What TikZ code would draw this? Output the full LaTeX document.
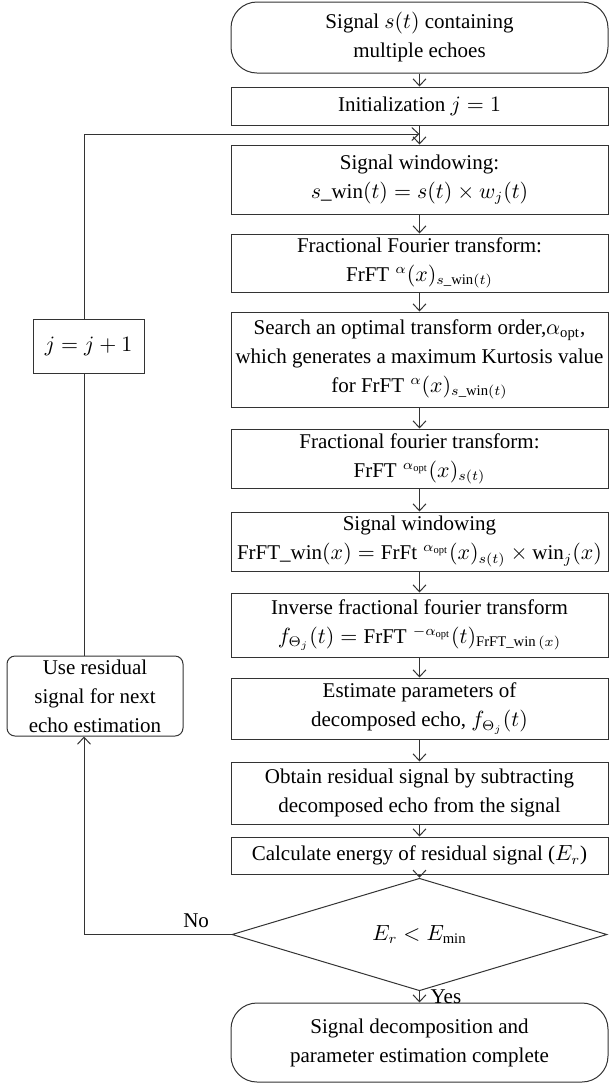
\documentclass[tikz,border=0pt]{standalone}
\usepackage{amsmath,amssymb}
\usepackage{fontspec}
\setmainfont{Liberation Serif}
\usetikzlibrary{arrows.meta,shapes.geometric}

\begin{document}
\begin{tikzpicture}[x=0.5pt,y=-0.5pt,>={Straight Barb[length=3.5pt,width=6.5pt]},
  line width=0.5pt,draw=black!80,font=\fontsize{10.5}{14.5}\selectfont,
  box/.style={draw,minimum width=188.5pt,inner sep=1pt,align=center},
  term/.style={box,rounded corners=13pt}]
\useasboundingbox (0,0) rectangle (609,1084);
\node[term,minimum height=35.5pt] (start) at (419.5,37.5) {Signal $s(t)$ containing\\multiple echoes};
\node[box,minimum height=19pt] (init) at (419.5,106) {Initialization $j=1$};
\node[box,minimum height=34.5pt] (win) at (419.5,179.5) {Signal windowing:\\$s\_\mathrm{win}(t)=s(t)\times w_j(t)$};
\node[box,minimum height=29pt] (frft) at (419.5,263) {Fractional Fourier transform:\\$\mathrm{FrFT}\;{}^{\alpha}(x)_{s\_\mathrm{win}(t)}$};
\node[box,minimum height=47.5pt] (opt) at (419.5,359.5) {Search an optimal transform order,$\alpha_{\mathrm{opt}}$,\\which generates a maximum Kurtosis value\\for $\mathrm{FrFT}\;{}^{\alpha}(x)_{s\_\mathrm{win}(t)}$};
\node[box,minimum height=29.5pt] (frft2) at (419.5,458.5) {Fractional fourier transform:\\$\mathrm{FrFT}\;{}^{\alpha_{\mathrm{opt}}}(x)_{s(t)}$};
\node[box,minimum height=29.5pt] (win2) at (419.5,541.5) {Signal windowing\\$\mathrm{FrFT\_win}(x)=\mathrm{FrFt}\;{}^{\alpha_{\mathrm{opt}}}(x)_{s(t)}\times\mathrm{win}_j(x)$};
\node[box,minimum height=32pt] (ifrft) at (419.5,625) {Inverse fractional fourier transform\\$f_{\Theta_j}(t)=\mathrm{FrFT}\;{}^{-\alpha_{\mathrm{opt}}}(t)_{\mathrm{FrFT\_win}\,(x)}$};
\node[box,minimum height=30.5pt] (est) at (419.5,708.5) {Estimate parameters of\\decomposed echo, $f_{\Theta_j}(t)$};
\node[box,minimum height=31pt] (res) at (419.5,793) {Obtain residual signal by subtracting\\decomposed echo from the signal};
\node[box,minimum height=18.5pt] (en) at (419.5,855.5) {Calculate energy of residual signal ($E_r$)};
\node[draw,diamond,minimum width=187.5pt,minimum height=41.5pt,inner sep=0pt] (dec) at (419.5,934.5) {$E_r<E_{\min}$};
\node[term,minimum height=39.5pt] (stop) at (419.5,1042.5) {Signal decomposition and\\parameter estimation complete};
\node[box,minimum width=55.5pt,minimum height=27pt] (inc) at (88.5,346) {$j=j+1$};
\node[box,rounded corners=4pt,minimum width=88pt,minimum height=40pt] (use) at (95,696) {Use residual\\signal for next\\echo estimation};
% main column
\foreach \a/\b in {start/init,init/win,win/frft,frft/opt,opt/frft2,frft2/win2,win2/ifrft,ifrft/est,est/res,res/en,en/dec}
  \draw[->] (\a) -- (\b);
\draw[->] (dec) -- node[right,xshift=2pt]{Yes} (stop);
% loop back
\coordinate (lp) at (84,134);
\draw[->] (dec.west) -| node[pos=0.12,above]{No} (use.south -| lp);
\draw (use.north -| lp) -- (inc.south -| lp);
\draw[->] (inc.north -| lp) |- (init.south |- lp);
\end{tikzpicture}
\end{document}
